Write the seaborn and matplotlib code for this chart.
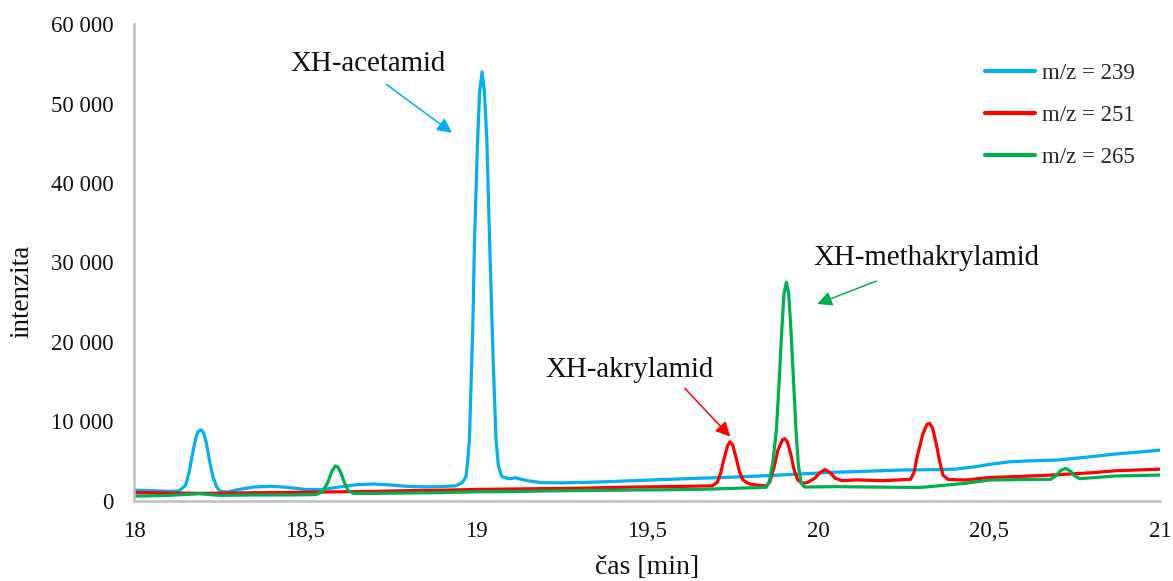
import numpy as np
import pandas as pd
import matplotlib
matplotlib.use("Agg")
import matplotlib.pyplot as plt
from matplotlib.ticker import FuncFormatter, MultipleLocator
import seaborn as sns

# ---------------- data ----------------
t_239 = [18.00, 18.05, 18.10, 18.13, 18.15, 18.16, 18.17, 18.18, 18.187, 18.195,
         18.203, 18.21, 18.22, 18.23, 18.24, 18.25, 18.27, 18.30, 18.35, 18.40,
         18.45, 18.50, 18.55, 18.60, 18.65, 18.70, 18.75, 18.80, 18.85, 18.90,
         18.94, 18.96, 18.97, 18.975, 18.98, 18.99, 18.995, 19.004, 19.010, 19.017,
         19.024, 19.031, 19.039, 19.05, 19.058, 19.065, 19.075, 19.09, 19.10, 19.115,
         19.13, 19.15, 19.19, 19.25, 19.35, 19.46, 19.55, 19.65, 19.75, 19.85,
         19.95, 20.04, 20.15, 20.24, 20.35, 20.40, 20.46, 20.50, 20.56, 20.62,
         20.70, 20.78, 20.87, 20.95, 21.00]
i_239 = [1300, 1250, 1150, 1200, 1900, 3500, 5800, 7900, 8700, 8900,
         8500, 7400, 5000, 3000, 1800, 1200, 1050, 1350, 1700, 1800,
         1650, 1400, 1400, 1700, 2000, 2080, 1950, 1780, 1720, 1760,
         1850, 2300, 3000, 5000, 7600, 22000, 32800, 45400, 51500, 54000,
         51500, 45400, 32800, 17000, 7600, 4300, 3000, 2800, 2750, 2870,
         2700, 2500, 2250, 2230, 2320, 2500, 2650, 2800, 2950, 3130,
         3350, 3550, 3700, 3840, 3900, 3950, 4250, 4550, 4880, 5000,
         5100, 5440, 5860, 6150, 6350]

t_251 = [18.00, 18.10, 18.20, 18.30, 18.40, 18.50, 18.60, 18.70, 18.80, 18.90,
         19.00, 19.10, 19.20, 19.30, 19.40, 19.50, 19.60, 19.69, 19.705, 19.715,
         19.725, 19.735, 19.742, 19.75, 19.76, 19.77, 19.78, 19.795, 19.81, 19.848,
         19.858, 19.87, 19.882, 19.895, 19.902, 19.91, 19.92, 19.93, 19.94, 19.955,
         19.97, 19.99, 20.005, 20.02, 20.035, 20.05, 20.07, 20.11, 20.19, 20.27,
         20.28, 20.29, 20.305, 20.318, 20.326, 20.335, 20.345, 20.355, 20.365, 20.38,
         20.43, 20.50, 20.60, 20.68, 20.80, 20.87, 21.00]
i_251 = [1000, 950, 900, 950, 1000, 1050, 1100, 1150, 1250, 1300,
         1400, 1450, 1500, 1550, 1650, 1720, 1780, 1850, 2300, 3500,
         5300, 6900, 7400, 7000, 5400, 3600, 2600, 2150, 2000, 1850,
         2300, 4000, 6300, 7600, 7800, 7400, 5800, 3800, 2600, 2150,
         2300, 2800, 3500, 3900, 3500, 2800, 2500, 2600, 2500, 2670,
         3500, 5600, 8200, 9600, 9700, 9100, 7200, 5000, 3200, 2650,
         2580, 2900, 3050, 3200, 3500, 3750, 3950]

t_265 = [18.00, 18.10, 18.19, 18.25, 18.35, 18.45, 18.53, 18.55, 18.565, 18.578,
         18.588, 18.596, 18.605, 18.615, 18.625, 18.64, 18.70, 18.80, 18.90, 19.00,
         19.07, 19.20, 19.35, 19.46, 19.65, 19.848, 19.858, 19.868, 19.878, 19.886,
         19.893, 19.900, 19.907, 19.914, 19.921, 19.928, 19.935, 19.942, 19.95, 19.96,
         20.05, 20.24, 20.30, 20.43, 20.50, 20.60, 20.68, 20.695, 20.71, 20.724,
         20.738, 20.75, 20.765, 20.87, 21.00]
i_265 = [550, 650, 850, 650, 700, 700, 750, 1100, 2200, 3700,
         4350, 4200, 3400, 2200, 1300, 900, 900, 950, 1000, 1100,
         1110, 1200, 1280, 1320, 1400, 1660, 2500, 5000, 9000, 15000,
         21000, 26000, 27500, 26000, 21000, 15000, 9000, 4500, 2200, 1700,
         1750, 1660, 1650, 2160, 2580, 2650, 2670, 3100, 3800, 4050,
         3700, 3100, 2750, 3090, 3210]

series_labels = ["m/z = 239", "m/z = 251", "m/z = 265"]
series_colors = ["#00B0F0", "#FF0000", "#00B050"]

y_ticks = [0, 10000, 20000, 30000, 40000, 50000, 60000]
x_ticks = [18, 18.5, 19, 19.5, 20, 20.5, 21]

annotations = [
    ("XH-acetamid", "#00B0F0"),
    ("XH-akrylamid", "#FF0000"),
    ("XH-methakrylamid", "#00B050"),
]

# ---------------- build table ----------------
frames = []
for lab, t, v in zip(series_labels, [t_239, t_251, t_265], [i_239, i_251, i_265]):
    frames.append(pd.DataFrame({"cas": t, "intenzita": v, "serie": lab}))
df = pd.concat(frames, ignore_index=True)

# ---------------- style ----------------
sns.set_theme(style="white")
plt.rcParams["font.family"] = ["Liberation Serif", "DejaVu Serif"]
plt.rcParams["axes.edgecolor"] = "#BFBFBF"

fig = plt.figure(figsize=(11.73, 5.81), dpi=100)
ax = fig.add_axes([0.1145, 0.1385, 0.8745, 0.8200])

sns.lineplot(data=df, x="cas", y="intenzita", hue="serie",
             palette=dict(zip(series_labels, series_colors)),
             hue_order=series_labels, estimator=None, sort=False,
             linewidth=2.3, ax=ax, legend=True)
for ln in ax.get_lines():
    ln.set_solid_joinstyle("round")
    ln.set_solid_capstyle("round")

ax.set_xlim(18, 21)
ax.set_ylim(0, 60000)
ax.set_xticks(x_ticks)
ax.set_yticks(y_ticks)
ax.xaxis.set_minor_locator(MultipleLocator(0.1))
ax.xaxis.set_major_formatter(FuncFormatter(lambda v, p: (f"{v:g}").replace(".", ",")))
ax.yaxis.set_major_formatter(FuncFormatter(lambda v, p: f"{int(v):,}".replace(",", " ")))

for s in ["top", "right"]:
    ax.spines[s].set_visible(False)
for s in ["left", "bottom"]:
    ax.spines[s].set_color("#BFBFBF")
    ax.spines[s].set_linewidth(1.8)

ax.tick_params(axis="both", which="both", direction="out", color="#BFBFBF",
               width=1.5, labelsize=16.5, labelcolor="#111111")
ax.tick_params(axis="x", which="major", length=5, pad=10)
ax.tick_params(axis="x", which="minor", length=5)
ax.tick_params(axis="y", which="major", length=5, pad=10)
ax.grid(False)

ax.set_xlabel("čas [min]", fontsize=20, color="#111111", labelpad=9)
ax.set_ylabel("intenzita", fontsize=19.5, color="#111111")
ax.yaxis.set_label_coords(-0.097, 0.438)

# annotations: text position, arrow start, arrow tip (data coordinates)
ann_pos = [
    ((18.683, 54100), (18.737, 52420), (18.929, 46320)),
    ((19.447, 15500), (19.610, 14130), (19.743, 8040)),
    ((20.317, 29600), (20.170, 27640), (19.997, 24750)),
]
for (txt, col), (tp, a0, a1) in zip(annotations, ann_pos):
    ax.text(tp[0], tp[1], txt, ha="center", va="baseline", fontsize=20.8, color="#111111")
    ax.annotate("", xy=a1, xytext=a0,
                arrowprops=dict(arrowstyle="-|>", color=col, lw=1.1,
                                mutation_scale=22, shrinkA=0, shrinkB=0))

leg = ax.legend(loc="upper left", bbox_to_anchor=(0.809, 0.962), frameon=False,
                fontsize=16.5, handlelength=2.18, handletextpad=0.3, labelspacing=0.91)
for line in leg.get_lines():
    line.set_linewidth(3)

fig.savefig("out.png", dpi=100, facecolor="white")
